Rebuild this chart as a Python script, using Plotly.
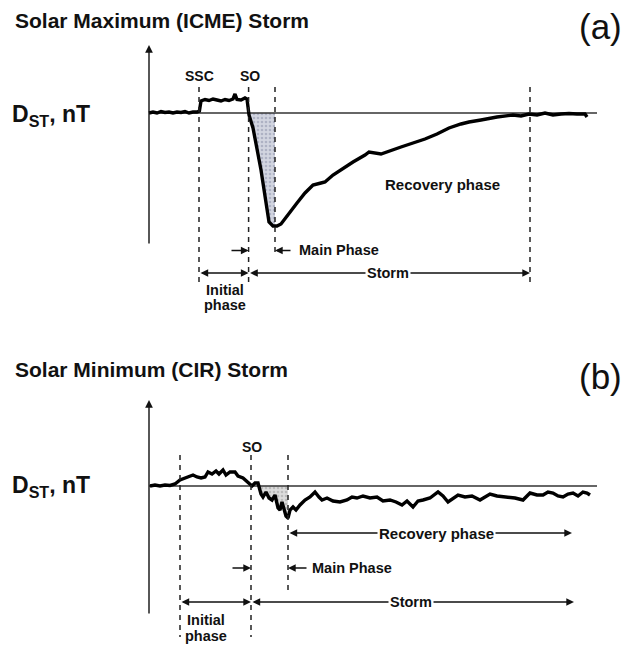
import numpy as np
import plotly.graph_objects as go

# ---------------- Data (time in hours, Dst in nT) ----------------
# Panel (a): Solar maximum (ICME) storm
a_time = [0, 1, 2, 3, 4, 5, 6, 7, 8, 9, 10, 11, 12, 12.6,
          13, 14, 15, 16, 17, 18, 19, 20, 21, 21.5, 22, 23, 24,
          24.5, 25, 26, 28, 29.5, 30, 31, 32, 33, 35, 37, 39, 41, 43, 44,
          46, 48.5, 51, 54, 55, 58, 60, 63, 66, 69, 72, 75, 78, 80, 83,
          87, 91, 93, 95, 97, 99, 101, 103, 105, 107, 109, 109.5]
a_dst = [0, 2, 0, 3, 1, 2, 0, 2, 1, 3, 0, 2, 2, 4,
         24, 27, 25, 28, 26, 24, 27, 25, 28, 38, 27, 26, 30,
         28, -4, -30, -114, -198, -218, -226, -226, -222, -200, -180, -160, -144, -140, -138,
         -124, -110, -98, -84, -78, -82, -76, -68, -60, -52, -42, -30, -22, -18, -14,
         -8, -4, -6, -2, -4, 0, -4, -2, -1, -2, -2, -8]
a_ssc, a_so, a_main_end, a_storm_end = 12.5, 24.9, 31.5, 95.25

# Panel (b): Solar minimum (CIR) storm
b_time = [0.25, 1.5, 2.75, 4, 5.25, 6.5, 7.75, 9, 10.25, 11, 12, 13, 14, 14.75,
          15.75, 16.75, 17.5, 18.5, 19.25, 20.25, 21.5, 22.25, 23.5, 24.75, 25.75,
          26.5, 27.25, 28, 28.5, 29.25, 30, 30.75, 31.5, 32.25, 32.75, 33.25, 33.75,
          34.25, 34.75, 35.25, 36, 36.75, 37.75, 39, 40.25, 41.5, 42.5, 43.25, 44.5,
          46, 47.75, 49.5, 50.75, 52, 53.5, 55.25, 57, 58.5, 60.25, 61.75, 63.25,
          64.5, 66, 67.25, 68.5, 70.25, 72.25, 73.5, 74.75, 76, 77.25, 79, 80.75,
          82.75, 84, 85.25, 87, 89.5, 91.5, 93.5, 95.25, 97, 98.5, 99.75, 101,
          102.25, 103.5, 104.75, 106, 107.25, 108.5, 109.5, 110.25]
b_dst = [0, 2, 0, 2, 1, 4, 12, 16, 20, 22, 18, 16, 18, 28,
         24, 30, 24, 32, 22, 28, 28, 20, 16, 6, 0,
         6, 6, -16, -22, -12, -24, -28, -18, -44, -48, -32, -48,
         -60, -64, -48, -42, -48, -38, -28, -22, -12, -22, -28, -24,
         -30, -32, -28, -22, -24, -20, -24, -22, -30, -28, -32, -38,
         -30, -42, -30, -28, -24, -12, -20, -32, -24, -18, -22, -20,
         -28, -22, -16, -20, -22, -24, -28, -14, -18, -18, -12, -14,
         -20, -22, -16, -14, -20, -12, -14, -18]
b_start, b_so, b_main_end, b_storm_end, b_recovery_end = 7.75, 25.5, 34.75, 106.25, 105.75

BASELINE_END = 112

# ---------------- Layout geometry ----------------
W, H = 629, 645          # browser window
OFF = 8                  # default page body margin
FW, FH = W - OFF, H - OFF  # figure size
SPLIT_PX = 322           # boundary between the two panels (window pixels)

FONT = "Liberation Sans, Arial, Helvetica, sans-serif"
fig = go.Figure()


def add_panel(xa, ya, t, d, main_end, fill_start, pattern):
    tt = np.array(t, float)
    dd = np.array(d, float)
    sel = (tt > fill_start) & (tt < main_end)
    ft = np.concatenate([[fill_start], tt[sel], [main_end]])
    fd = np.minimum(np.interp(ft, tt, dd), 0)
    px = list(ft) + [main_end, fill_start]
    py = list(fd) + [0, 0]
    fig.add_trace(go.Scatter(x=px, y=py, xaxis=xa, yaxis=ya, mode="lines",
                             fill="toself", fillcolor=pattern[1],
                             fillpattern=dict(shape=".", fgcolor=pattern[0],
                                              bgcolor=pattern[1], size=4, solidity=0.35),
                             line=dict(width=0), hoverinfo="skip", showlegend=False))
    fig.add_trace(go.Scatter(x=[0, BASELINE_END], y=[0, 0], xaxis=xa, yaxis=ya,
                             mode="lines", line=dict(color="#333", width=1.5),
                             hoverinfo="skip", showlegend=False))
    fig.add_trace(go.Scatter(x=t, y=d, xaxis=xa, yaxis=ya, mode="lines",
                             line=dict(color="black", width=3.4),
                             hoverinfo="skip", showlegend=False))


def vdash(xa, ya, x, y0, y1):
    fig.add_trace(go.Scatter(x=[x, x], y=[y0, y1], xaxis=xa, yaxis=ya, mode="lines",
                             line=dict(color="#222", width=1.5, dash="5px,5px"),
                             hoverinfo="skip", showlegend=False))


add_panel("x", "y", a_time, a_dst, a_main_end, a_so, ("#8a90a8", "#d2d5e0"))
for xv, bot in [(a_ssc, -338), (a_so, -338), (a_main_end, -286), (a_storm_end, -338)]:
    vdash("x", "y", xv, 52, bot)

add_panel("x2", "y2", b_time, b_dst, b_main_end, 25.75, ("#9a9a9a", "#dcdcdc"))
for xv, bot in [(b_start, -302), (b_so, -302), (b_main_end, -208)]:
    vdash("x2", "y2", xv, 62, bot)

ann = []


def arrow(n, x_tail, x_head, y_tail, y_head=None, both=False):
    xr = "x" if n == 1 else "x2"
    yr = "y" if n == 1 else "y2"
    ann.append(dict(x=x_head, y=y_tail if y_head is None else y_head,
                    ax=x_tail, ay=y_tail, xref=xr, yref=yr, axref=xr, ayref=yr,
                    text="", showarrow=True, arrowhead=2, arrowsize=1.1,
                    arrowwidth=1.4, arrowcolor="#111",
                    arrowside="end+start" if both else "end"))


def label(n, x, y, text, size=15, anchor="center", bg=None):
    xr = "x" if n == 1 else "x2"
    yr = "y" if n == 1 else "y2"
    d = dict(x=x, y=y, xref=xr, yref=yr, text=text, showarrow=False,
             xanchor=anchor, yanchor="middle",
             font=dict(family=FONT, size=size, color="#111", weight="bold"))
    if bg:
        d["bgcolor"] = bg
        d["borderpad"] = 1
    ann.append(d)


# Panel (a)
arrow(1, 0, 0, -264, 136)
label(1, a_ssc, 75, "SSC", 14)
label(1, a_so + 0.3, 75, "SO", 14)
label(1, 73.25, -142, "Recovery phase", 15)
arrow(1, 20.25, a_so, -275)
arrow(1, 35.75, a_main_end, -275)
label(1, 37, -274, "Main Phase", 14.5, "left")
arrow(1, a_ssc, a_so, -320, both=True)
arrow(1, a_so, a_storm_end, -320, both=True)
label(1, 59.75, -320, "Storm", 14.5, bg="white")
label(1, 19, -354, "Initial", 14.5)
label(1, 19, -384, "phase", 14.5)

# Panel (b)
arrow(2, 0, 0, -258, 172)
label(2, 25.75, 78, "SO", 14)
arrow(2, b_main_end, b_recovery_end, -94, both=True)
label(2, 71.75, -94, "Recovery phase", 15, bg="white")
arrow(2, 20.5, b_so, -164)
arrow(2, 39.75, b_main_end, -164)
label(2, 40.25, -164, "Main Phase", 14.5, "left")
arrow(2, b_start, b_so, -232, both=True)
arrow(2, b_so, b_storm_end, -232, both=True)
label(2, 65.5, -232, "Storm", 14.5, bg="white")
label(2, 14.25, -268, "Initial", 14.5)
label(2, 14.25, -300, "phase", 14.5)


def paper_text(x, y, text, size, bold=True, anchor="left"):
    ann.append(dict(x=(x - OFF) / FW, y=1 - (y - OFF) / FH, xref="paper", yref="paper",
                    text=text, showarrow=False, xanchor=anchor, yanchor="middle",
                    font=dict(family=FONT, size=size, color="#111",
                              weight="bold" if bold else "normal")))


paper_text(13, 20, "Solar Maximum (ICME) Storm", 21)
paper_text(13, 370, "Solar Minimum (CIR) Storm", 21)
paper_text(624, 27, "(a)", 35, bold=False, anchor="right")
paper_text(624, 376, "(b)", 35, bold=False, anchor="right")
paper_text(10, 115, "D<sub>ST</sub>, nT", 23)
paper_text(10, 486, "D<sub>ST</sub>, nT", 23)

# axis ranges: time t = (px-149)/4 ; Dst = (baseline_px - py)*2
t_left, t_right = (OFF - 149) / 4, (W - 149) / 4
a_top, a_bot = (113 - OFF) * 2, (113 - SPLIT_PX) * 2
b_top, b_bot = (486 - SPLIT_PX) * 2, (486 - H) * 2
split = 1 - (SPLIT_PX - OFF) / FH

ax_common = dict(visible=False, showgrid=False, zeroline=False, fixedrange=True)
fig.update_layout(
    width=FW, height=FH,
    margin=dict(l=0, r=0, t=0, b=0),
    paper_bgcolor="white", plot_bgcolor="white",
    showlegend=False,
    xaxis=dict(range=[t_left, t_right], domain=[0, 1], anchor="y", **ax_common),
    yaxis=dict(range=[a_bot, a_top], domain=[split, 1], anchor="x", **ax_common),
    xaxis2=dict(range=[t_left, t_right], domain=[0, 1], anchor="y2", **ax_common),
    yaxis2=dict(range=[b_bot, b_top], domain=[0, split], anchor="x2", **ax_common),
    annotations=ann,
)

fig.write_html("out.html")
